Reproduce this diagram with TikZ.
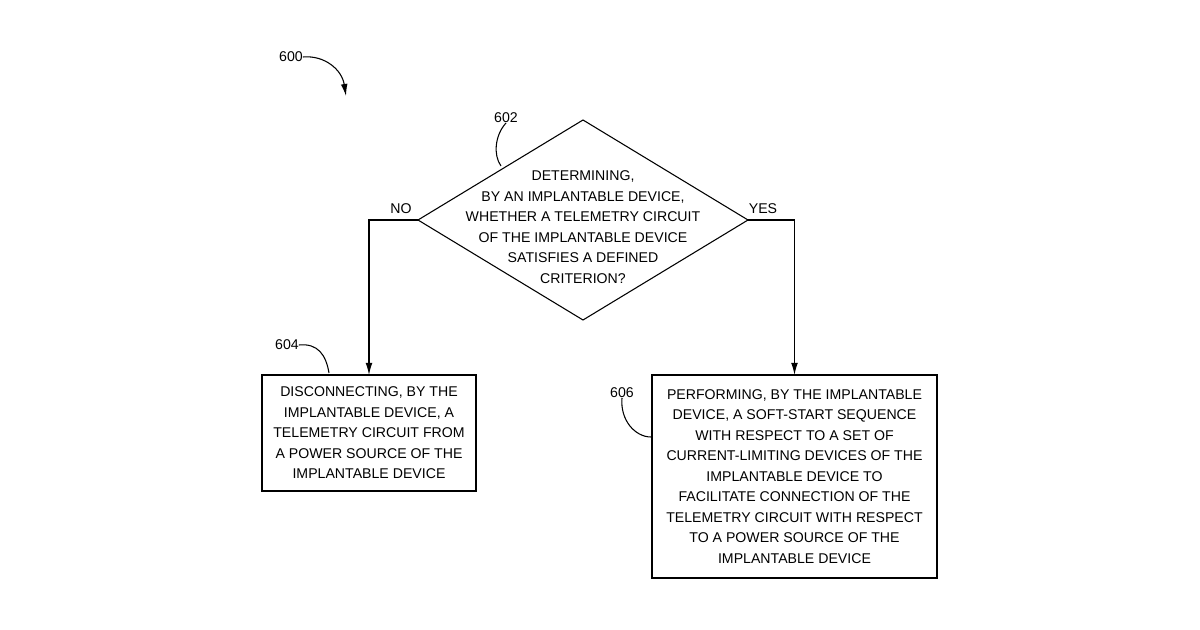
\documentclass[tikz,border=0pt]{standalone}
\usepackage{fontspec}
\setmainfont{Liberation Sans}
\usetikzlibrary{shapes.geometric,arrows.meta}
\begin{document}
\begin{tikzpicture}[x=0.75pt,y=-0.75pt]
\tikzset{ >={Latex[length=9pt,width=5pt]}, inner sep=0pt, outer sep=0pt,
  box/.style={draw, thick, align=center, font=\fontsize{10.6}{15.4}\selectfont},
  lbl/.style={font=\fontsize{10.6}{12}\selectfont},
}
\useasboundingbox (0,0) rectangle (1200,630);

\node [draw, thick, diamond, minimum width=330*0.75pt, minimum height=200*0.75pt] (D) at (583,220) {};
\node [align=center, font=\fontsize{10.6}{15.4}\selectfont] (Dt) at (583,227)
  {DETERMINING,\\BY AN IMPLANTABLE DEVICE,\\WHETHER A TELEMETRY CIRCUIT\\OF THE IMPLANTABLE DEVICE\\SATISFIES A DEFINED\\CRITERION?};

\node [box, minimum width=214*0.75pt, minimum height=116*0.75pt] (L) at (369,433)
  {DISCONNECTING, BY THE\\IMPLANTABLE DEVICE, A\\TELEMETRY CIRCUIT FROM\\A POWER SOURCE OF THE\\IMPLANTABLE DEVICE};
\node [box, minimum width=285*0.75pt, minimum height=203*0.75pt] (R) at (794.5,476.5)
  {PERFORMING, BY THE IMPLANTABLE\\DEVICE, A SOFT-START SEQUENCE\\WITH RESPECT TO A SET OF\\CURRENT-LIMITING DEVICES OF THE\\IMPLANTABLE DEVICE TO\\FACILITATE CONNECTION OF THE\\TELEMETRY CIRCUIT WITH RESPECT\\TO A POWER SOURCE OF THE\\IMPLANTABLE DEVICE};

\draw [->, thick] (D.west) -| (L.north);
\draw [->, thick] (D.east) -| (R.north);
\node [lbl] (no) at (401,209) {NO};
\node [lbl] (yes) at (763,209) {YES};

% reference numerals
\node [lbl] (n600) at (291,57) {600};
\coordinate (a600) at (346,96);
\draw [->, thick] (n600.east) .. controls (325,55) and (342,70) .. (a600);
\node [lbl] (n602) at (506,118) {602};
\draw [thick] (n602.south) .. controls (495,135) and (493,155) .. (501,166);
\node [lbl] (n604) at (287,345) {604};
\draw [thick] (n604.east) .. controls (318,343) and (326,355) .. (329,373);
\node [lbl] (n606) at (622,393) {606};
\draw [thick] (n606.south) .. controls (620,420) and (635,437) .. (651,437);
\end{tikzpicture}
\end{document}
